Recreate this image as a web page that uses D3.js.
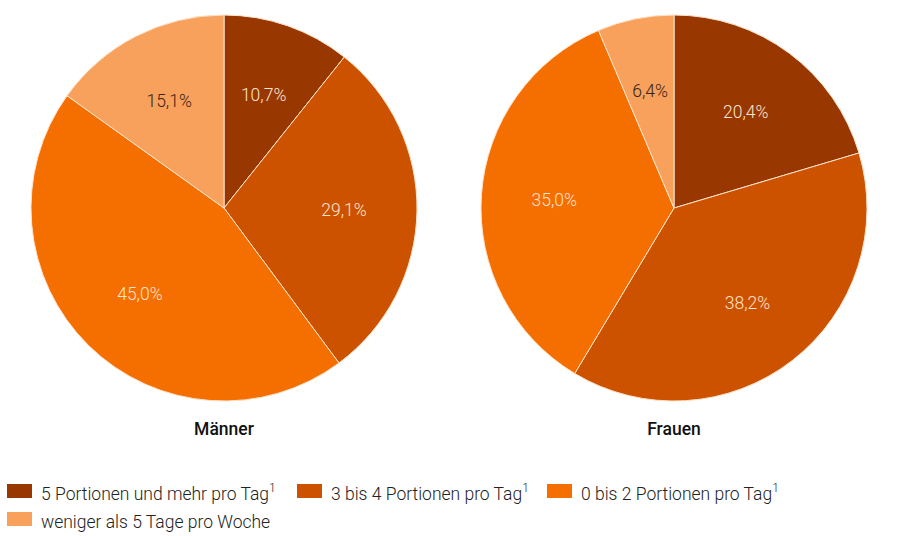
<!DOCTYPE html>
<html><head><meta charset="utf-8">
<script src="https://cdn.jsdelivr.net/npm/d3@7"></script>
<style>body{margin:0;background:#fff}svg{display:block;font-family:Roboto,sans-serif}</style>
</head><body>
<svg id="c" width="900" height="536"></svg>
<script>
const categories = ["5 Portionen und mehr pro Tag", "3 bis 4 Portionen pro Tag", "0 bis 2 Portionen pro Tag", "weniger als 5 Tage pro Woche"];
const superscripts = ["1", "1", "1", ""];
const groups = ["Männer", "Frauen"];
const maennerValues = [10.7, 29.1, 45.0, 15.1];
const frauenValues = [20.4, 38.2, 35.0, 6.4];
const colors = ["#983800", "#cc5200", "#f56e00", "#f8a15c"];
const labelColors = ["#fde3cc", "#fde3cc", "#fde3cc", "#3b2414"];

const svg = d3.select("#c");
const fmt = v => d3.format(".1f")(v).replace(".", ",") + "%";
const pie = d3.pie().sort(null).value(d => d);
const R = 193;
const arc = d3.arc().innerRadius(0).outerRadius(R);
const labelArc = d3.arc().innerRadius(120).outerRadius(120);

[[maennerValues, 224], [frauenValues, 674]].forEach(([vals, cx], gi) => {
  const g = svg.append("g").attr("transform", `translate(${cx},208)`);
  const arcs = pie(vals);
  g.selectAll("path").data(arcs).join("path")
    .attr("d", arc).attr("fill", (d, i) => colors[i])
    .attr("stroke", "#fde3cc").attr("stroke-width", 1);
  g.selectAll("text").data(arcs).join("text")
    .attr("transform", d => `translate(${labelArc.centroid(d)})`)
    .attr("text-anchor", "middle").attr("dy", "0.35em")
    .attr("font-size", 17.5).attr("font-weight", 300).attr("fill", (d, i) => labelColors[i])
    .text(d => fmt(d.data));
  svg.append("text").attr("x", cx).attr("y", 435).attr("text-anchor", "middle")
    .attr("font-size", 17.5).attr("font-weight", 500).attr("fill", "#111")
    .text(groups[gi]);
});

const legendPos = [[7, 484], [297, 484], [547, 484], [7, 512]];
const lg = svg.append("g");
categories.forEach((c, i) => {
  const [x, y] = legendPos[i];
  lg.append("rect").attr("x", x).attr("y", y).attr("width", 25).attr("height", 14).attr("fill", colors[i]);
  const t = lg.append("text").attr("x", x + 34).attr("y", y + 16).attr("font-size", 17.5).attr("font-weight", 300).attr("fill", "#222").text(c);
  if (superscripts[i]) t.append("tspan").attr("dy", -8).attr("font-size", 12).text(superscripts[i]);
});
</script>
</body></html>
